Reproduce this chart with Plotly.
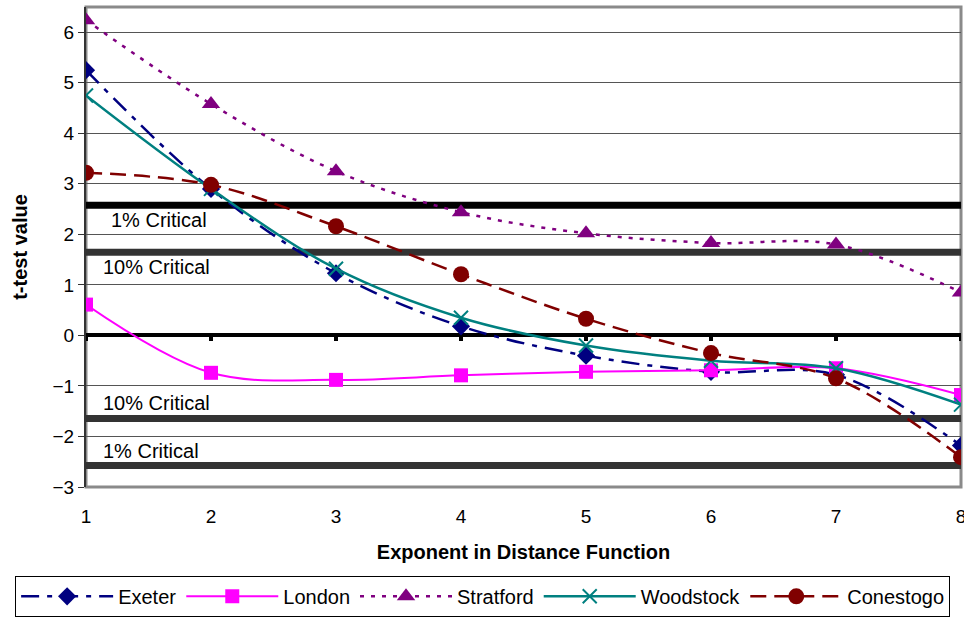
import plotly.graph_objects as go

x_vals = [1, 2, 3, 4, 5, 6, 7, 8]
exeter = [5.25, 2.90, 1.23, 0.18, -0.40, -0.72, -0.78, -2.18]
london = [0.61, -0.74, -0.88, -0.79, -0.72, -0.69, -0.65, -1.18]
stratford = [6.24, 4.58, 3.25, 2.44, 2.02, 1.83, 1.80, 0.85]
woodstock = [4.75, 2.90, 1.32, 0.35, -0.20, -0.50, -0.65, -1.37]
conestogo = [3.22, 2.98, 2.16, 1.21, 0.33, -0.35, -0.85, -2.41]

crit_1 = 2.576
crit_10 = 1.645
y_ticks = [-3, -2, -1, 0, 1, 2, 3, 4, 5, 6]
y_min, y_max = -3, 6.5

FONT = "Liberation Sans, Arial, sans-serif"

fig = go.Figure()

# critical value reference lines
for val, col in [(crit_1, "#000000"), (crit_10, "#333333"),
                 (-crit_10, "#333333"), (-crit_1, "#333333")]:
    fig.add_trace(go.Scatter(x=x_vals, y=[val] * len(x_vals), mode="lines",
                             line=dict(color=col, width=7), showlegend=False,
                             hoverinfo="skip"))

# small downward tick marks along the zero line (drawn as one-sided error bars)
fig.add_trace(go.Scatter(x=x_vals, y=[0] * len(x_vals), mode="markers",
                         marker=dict(size=1, color="rgba(0,0,0,0)"),
                         error_y=dict(type="data", symmetric=False,
                                      array=[0] * len(x_vals),
                                      arrayminus=[0.11] * len(x_vals),
                                      thickness=4, width=0, color="black"),
                         showlegend=False, hoverinfo="skip"))

series = [
    ("Exeter", exeter, "#000080", "18px,8px,5px,8px", "diamond", 14, 2.5),
    ("London", london, "#FF00FF", "solid", "square", 14, 2),
    ("Stratford", stratford, "#800080", "4px,7px", "triangle-up", 16, 2.5),
    ("Woodstock", woodstock, "#008080", "solid", "x-thin", 14, 2.5),
    ("Conestogo", conestogo, "#800000", "16px,8px", "circle", 16, 2.5),
]
for name, ys, col, dash, sym, size, w in series:
    if sym == "x-thin":
        mk = dict(symbol=sym, size=size, color=col, line=dict(color=col, width=2))
    else:
        mk = dict(symbol=sym, size=size, color=col, line=dict(width=0))
    fig.add_trace(go.Scatter(x=x_vals, y=ys, name=name, mode="lines+markers",
                             line=dict(color=col, width=w, dash=dash,
                                       shape="spline", smoothing=1),
                             marker=mk))

ann = [("1% Critical", 1.18, 2.29), ("10% Critical", 1.12, 1.36),
       ("10% Critical", 1.12, -1.34), ("1% Critical", 1.12, -2.29)]
for t, ax_, ay_ in ann:
    fig.add_annotation(x=ax_, y=ay_, text=t, showarrow=False, xanchor="left",
                       yanchor="middle", font=dict(family=FONT, size=20, color="black"))

# plot border (top/right gray)
fig.add_shape(type="rect", xref="paper", yref="paper", x0=0, x1=1, y0=0, y1=1,
              line=dict(color="#8a8a8a", width=3), layer="below")

fig.update_layout(
    width=964, height=621,
    margin=dict(l=86, r=3, t=7, b=134, autoexpand=False),
    paper_bgcolor="white", plot_bgcolor="white",
    font=dict(family=FONT, size=19, color="black"),
    xaxis=dict(range=[1, 8], tickvals=x_vals, showgrid=False, zeroline=False,
               showline=False, ticks="outside", ticklen=12,
               tickcolor="rgba(0,0,0,0)", tickfont=dict(size=19),
               ticklabeloverflow="allow", automargin=False,
               title=dict(text="<b>Exponent in Distance Function</b>",
                          font=dict(size=20), standoff=19)),
    yaxis=dict(range=[y_min, y_max], tickvals=y_ticks, showgrid=True,
               gridcolor="#555555", gridwidth=1, zeroline=True,
               zerolinecolor="black", zerolinewidth=4,
               showline=True, linecolor="#333333", linewidth=2,
               ticks="outside", ticklen=6, tickcolor="#333333",
               tickfont=dict(size=19), automargin=False,
               title=dict(text="<b>t-test value</b>", font=dict(size=20),
                          standoff=20)),
    legend=dict(orientation="h", x=-0.081, xanchor="left", y=-0.185,
                yanchor="top", bordercolor="black", borderwidth=1,
                font=dict(size=20), itemwidth=92, bgcolor="white",
                tracegroupgap=0),
    showlegend=True,
)

fig.write_html("out.html")
